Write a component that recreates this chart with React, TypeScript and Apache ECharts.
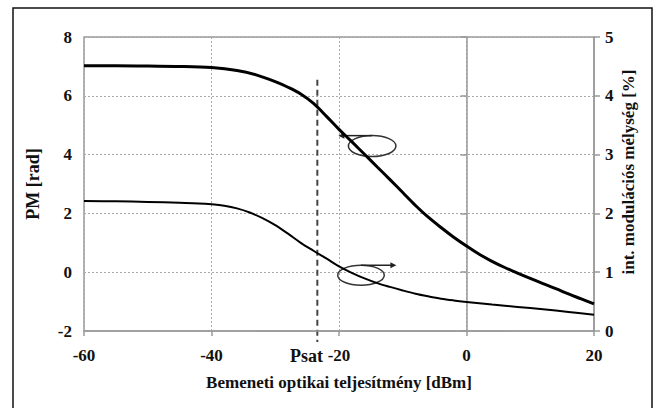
import React, { useEffect, useRef } from "react";
import * as echarts from "echarts";

// Input optical power [dBm]
const powerPM = [-60, -55, -50, -45, -40, -36, -33, -30, -28, -26, -24, -22, -20, -18, -16, -14, -12, -10, -8, -6, -4, -2, 0, 2, 4, 6, 8, 10, 12, 14, 16, 18, 20];
// Phase modulation [rad] (left axis)
const pmValues = [7.02, 7.02, 7.01, 7.0, 6.96, 6.86, 6.71, 6.48, 6.29, 6.06, 5.74, 5.31, 4.86, 4.44, 4.01, 3.58, 3.15, 2.71, 2.27, 1.87, 1.52, 1.19, 0.89, 0.61, 0.37, 0.16, -0.03, -0.21, -0.39, -0.56, -0.74, -0.91, -1.08];

const powerIM = [-60, -55, -50, -45, -42, -40, -38, -36, -34, -32, -30, -28, -26, -24, -22, -20, -18, -16, -14, -12, -10, -8, -6, -4, -2, 0, 4, 8, 12, 16, 20];
// Intensity modulation depth [%] (right axis)
const imValues = [2.21, 2.205, 2.195, 2.18, 2.17, 2.155, 2.13, 2.085, 2.015, 1.92, 1.8, 1.655, 1.5, 1.365, 1.235, 1.1, 0.99, 0.895, 0.815, 0.75, 0.69, 0.635, 0.59, 0.55, 0.52, 0.495, 0.45, 0.41, 0.37, 0.325, 0.275];

const xTicks = { min: -60, max: 20, interval: 20 };
const leftTicks = { min: -2, max: 8, interval: 2 };
const rightTicks = { min: 0, max: 5, interval: 1 };

// Annotations (data units: x in dBm, y in PM rad)
const satPower = -23.4;
const satLineTop = 6.55;
const satLineBottom = -2.37;
const upperEllipse = { cx: -14.8, cy: 4.29, rx: 3.73, ry: 0.357 };
const upperArrow = { from: [-14.8, 4.645], to: [-20.1, 4.645] };
const lowerEllipse = { cx: -16.55, cy: -0.1, rx: 3.65, ry: 0.34 };
const lowerArrow = { from: [-16.55, 0.24], to: [-11.0, 0.24] };

const xTitle = "Bemeneti optikai teljesítmény [dBm]";
const leftTitle = "PM [rad]";
const rightTitle = "int. modulációs mélység [%]";
const satLabel = "Psat";

const FONT = "Liberation Serif, Times New Roman, serif";
const AXIS_GRAY = "#9a9a9a";
const GRID_GRAY = "#a8a8a8";

export default function App() {
  const ref = useRef<HTMLDivElement>(null);

  useEffect(() => {
    document.body.style.margin = "0";
    const chart = echarts.init(ref.current!, undefined, { renderer: "svg" });

    const labelStyle = { fontFamily: FONT, fontWeight: "bold" as const, fontSize: 17, color: "#111" };
    const nameStyle = { fontFamily: FONT, fontWeight: "bold" as const, fontSize: 17, color: "#111" };

    chart.setOption({
      animation: false,
      backgroundColor: "#fff",
      grid: {
        left: 84,
        top: 37,
        right: 64,
        bottom: 77,
        show: true,
        borderColor: AXIS_GRAY,
        borderWidth: 1.5,
        backgroundColor: "transparent",
      },
      xAxis: {
        type: "value",
        ...xTicks,
        name: xTitle,
        nameLocation: "middle",
        nameGap: 43,
        nameTextStyle: nameStyle,
        axisLine: { show: true, onZero: false, lineStyle: { color: AXIS_GRAY, width: 1.5 } },
        axisTick: { show: true, length: 5, lineStyle: { color: AXIS_GRAY, width: 1.5 } },
        axisLabel: { ...labelStyle, margin: 16 },
        splitLine: { show: true, lineStyle: { color: GRID_GRAY, type: [2, 2], width: 1 } },
      },
      yAxis: [
        {
          type: "value",
          ...leftTicks,
          position: "left",
          name: leftTitle,
          nameLocation: "middle",
          nameRotate: 90,
          nameGap: 42,
          nameTextStyle: { ...nameStyle, fontSize: 18 },
          axisLine: { show: true, lineStyle: { color: AXIS_GRAY, width: 1.5 } },
          axisTick: { show: true, length: 6, lineStyle: { color: AXIS_GRAY, width: 1.5 } },
          axisLabel: { ...labelStyle, margin: 12 },
          splitLine: { show: true, lineStyle: { color: GRID_GRAY, type: [2, 2], width: 1 } },
        },
        {
          type: "value",
          ...rightTicks,
          position: "right",
          axisLine: { show: true, lineStyle: { color: AXIS_GRAY, width: 1.5 } },
          axisTick: { show: true, length: 6, lineStyle: { color: AXIS_GRAY, width: 1.5 } },
          axisLabel: { ...labelStyle, margin: 11 },
          splitLine: { show: false },
        },
      ],
      series: [
        {
          type: "line",
          name: leftTitle,
          yAxisIndex: 0,
          data: powerPM.map((x, i) => [x, pmValues[i]]),
          showSymbol: false,
          smooth: 0.35,
          lineStyle: { color: "#000", width: 3 },
        },
        {
          type: "line",
          name: rightTitle,
          yAxisIndex: 1,
          data: powerIM.map((x, i) => [x, imValues[i]]),
          showSymbol: false,
          smooth: 0.35,
          lineStyle: { color: "#000", width: 2 },
        },
      ],
    });

    const px = (p: number[]) => chart.convertToPixel({ xAxisIndex: 0, yAxisIndex: 0 }, p) as number[];

    const ellipseShape = (e: { cx: number; cy: number; rx: number; ry: number }) => {
      const c = px([e.cx, e.cy]);
      const r = px([e.cx + e.rx, e.cy + e.ry]);
      return { cx: c[0], cy: c[1], rx: Math.abs(r[0] - c[0]), ry: Math.abs(c[1] - r[1]) };
    };

    const arrow = (a: { from: number[]; to: number[] }) => {
      const f = px(a.from);
      const t = px(a.to);
      const dir = Math.sign(t[0] - f[0]);
      return [
        {
          type: "line",
          shape: { x1: f[0], y1: f[1], x2: t[0] - dir * 3, y2: t[1] },
          style: { stroke: "#222", lineWidth: 1.5 },
        },
        {
          type: "polygon",
          shape: { points: [[t[0], t[1]], [t[0] - dir * 6, t[1] - 3], [t[0] - dir * 6, t[1] + 3]] },
          style: { fill: "#222" },
        },
      ];
    };

    const satTop = px([satPower, satLineTop]);
    const satBottom = px([satPower, satLineBottom]);
    const m20 = px([-20, leftTicks.min]);
    const rightTop = chart.convertToPixel({ xAxisIndex: 0, yAxisIndex: 1 }, [xTicks.max, rightTicks.max]) as number[];
    const rightBottom = chart.convertToPixel({ xAxisIndex: 0, yAxisIndex: 1 }, [xTicks.max, rightTicks.min]) as number[];

    chart.setOption({
      graphic: [
        {
          type: "rect",
          shape: { x: 13, y: 8, width: 639, height: 410 },
          style: { fill: "none", stroke: "#111", lineWidth: 1.5 },
          silent: true,
        },
        {
          type: "line",
          shape: { x1: satTop[0], y1: satTop[1], x2: satBottom[0], y2: satBottom[1] },
          style: { stroke: "#444", lineWidth: 2, lineDash: [6, 4] },
        },
        { type: "ellipse", shape: ellipseShape(upperEllipse), style: { fill: "none", stroke: "#333", lineWidth: 1.5 } },
        { type: "ellipse", shape: ellipseShape(lowerEllipse), style: { fill: "none", stroke: "#333", lineWidth: 1.5 } },
        ...arrow(upperArrow),
        ...arrow(lowerArrow),
        {
          type: "text",
          x: m20[0] - 16,
          y: m20[1] + 25,
          style: {
            text: satLabel,
            fontFamily: FONT,
            fontWeight: "bold",
            fontSize: 18,
            fill: "#111",
            align: "right",
            verticalAlign: "middle",
          },
        },
        {
          type: "text",
          x: rightTop[0] + 34,
          y: (rightTop[1] + rightBottom[1]) / 2 - 12,
          rotation: Math.PI / 2,
          style: {
            text: rightTitle,
            fontFamily: FONT,
            fontWeight: "bold",
            fontSize: 17,
            fill: "#111",
            align: "center",
            verticalAlign: "middle",
          },
        },
      ],
    });

    return () => chart.dispose();
  }, []);

  return <div ref={ref} style={{ width: 658, height: 408 }} />;
}
